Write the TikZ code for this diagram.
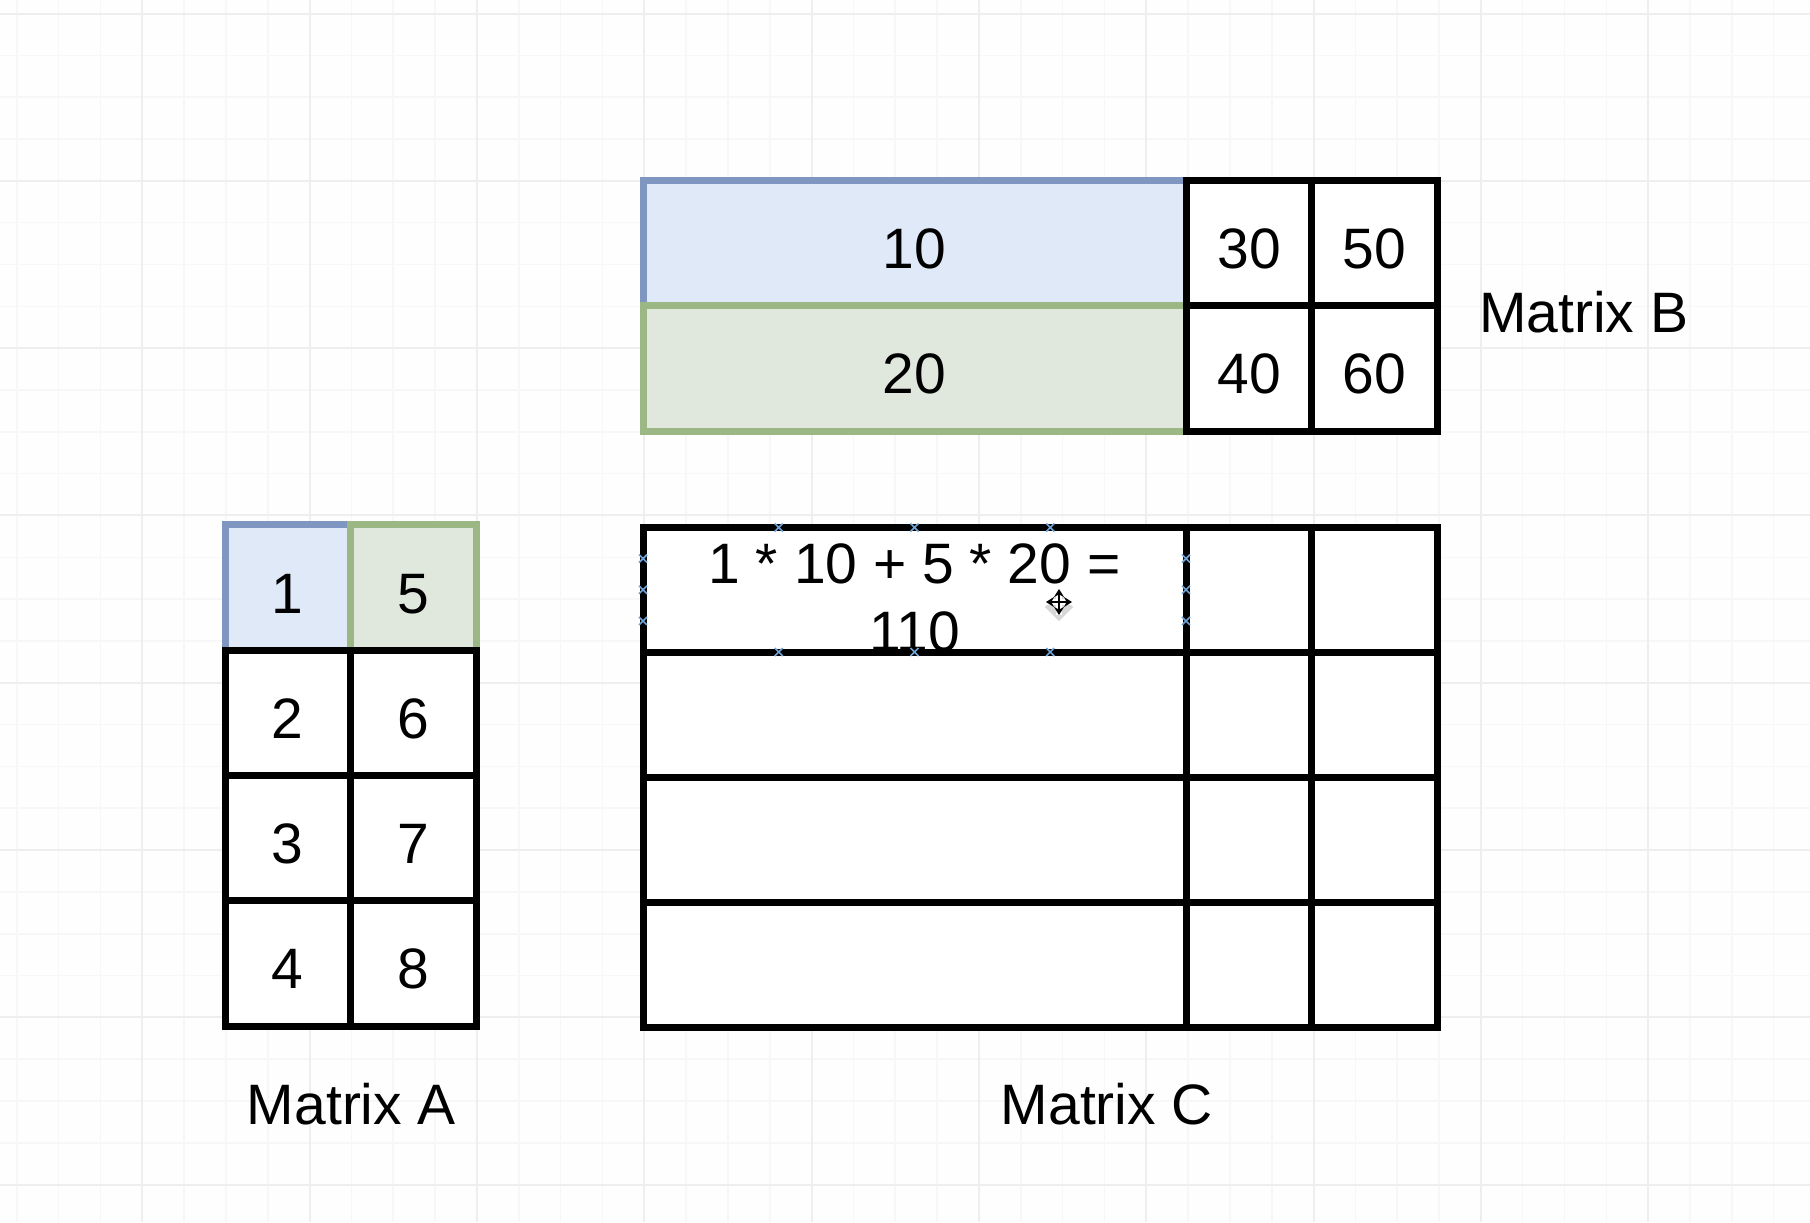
\documentclass[tikz,border=0pt]{standalone}
\usepackage{fontspec}
\setmainfont{Liberation Sans}
\usetikzlibrary{arrows.meta}
\definecolor{bluefill}{HTML}{E0E9F8}
\definecolor{blueline}{HTML}{7E96C0}
\definecolor{greenfill}{HTML}{E0E8DD}
\definecolor{greenline}{HTML}{9BB783}
\definecolor{gridbg}{HTML}{FEFEFE}
\definecolor{gridminor}{HTML}{F7F7F7}
\definecolor{gridmajor}{HTML}{EEEEEE}
\definecolor{pointblue}{HTML}{6FA3D8}
\definecolor{cursorshade}{HTML}{D8D8D8}
\begin{document}
\begin{tikzpicture}[x=0.5pt,y=-0.5pt,
  every node/.style={font=\fontsize{28.5}{33.75}\selectfont},
  cell/.style={draw=black,fill=white,line width=3.5pt,minimum width=62.75pt,minimum height=62.75pt,inner sep=0pt,text height=25.7pt,text depth=0pt},
  widecell/.style={cell,minimum width=271.5pt},
  bluecell/.style={draw=blueline,fill=bluefill},
  greencell/.style={draw=greenline,fill=greenfill},
  pointmark/.style={draw=pointblue,line width=0.8pt}]
  \useasboundingbox (0,0) rectangle (1810,1222);
  % Background grid
  \fill[gridbg] (0,0) rectangle (1810,1222);
  \foreach \k in {0,...,43} {\draw[gridminor,line width=0.8pt] ({16.8+41.83*\k},0) -- ++(0,1222);}
  \foreach \k in {0,...,29} {\draw[gridminor,line width=0.8pt] (0,{13.5+41.83*\k}) -- ++(1810,0);}
  \foreach \k in {3,7,...,43} {\draw[gridmajor,line width=1pt] ({16.8+41.83*\k},0) -- ++(0,1222);}
  \foreach \k in {0,4,...,28} {\draw[gridmajor,line width=1pt] (0,{13.5+41.83*\k}) -- ++(1810,0);}
  % Matrix A
  \node[cell,bluecell] (A11) at (287.75,587.5) {1};
  \node[cell,greencell] (A12) at (413.25,587.5) {5};
  \foreach \a/\b [count=\r from 2] in {2/6,3/7,4/8} {
    \node[cell] (A\r1) at (287.75,{587.5+125.25*(\r-1)}) {\a};
    \node[cell] (A\r2) at (413.25,{587.5+125.25*(\r-1)}) {\b};}
  % Matrix B
  \node[widecell,bluecell] (B11) at (914.5,242.75) {10};
  \node[widecell,greencell] (B21) at (914.5,368.25) {20};
  \foreach \a/\b [count=\r] in {30/50,40/60} {
    \node[cell] (B\r2) at (1249,{242.75+125.5*(\r-1)}) {\a};
    \node[cell] (B\r3) at (1374.5,{242.75+125.5*(\r-1)}) {\b};}
  % Matrix C
  \node[widecell,text height=,align=center] (C11) at (914.5,589.75) {\rule{0pt}{27.6pt}1 * 10 + 5 * 20 =\\110};
  \foreach \r in {2,3,4} {\node[widecell] (C\r1) at (914.5,{589.75+125.1*(\r-1)}) {};}
  \foreach \r in {1,...,4} {
    \node[cell] (C\r2) at (1249,{589.75+125.1*(\r-1)}) {};
    \node[cell] (C\r3) at (1374.5,{589.75+125.1*(\r-1)}) {};}
  % Connection points on the selected cell
  \foreach \x in {778.75,914.5,1050.25} {
    \draw[pointmark] (\x,527.5) ++(-4,-4) -- ++(8,8) ++(-8,0) -- ++(8,-8);
    \draw[pointmark] (\x,652) ++(-4,-4) -- ++(8,8) ++(-8,0) -- ++(8,-8);}
  \foreach \y in {558.6,589.75,620.9} {
    \draw[pointmark] (643,\y) ++(-4,-4) -- ++(8,8) ++(-8,0) -- ++(8,-8);
    \draw[pointmark] (1186,\y) ++(-4,-4) -- ++(8,8) ++(-8,0) -- ++(8,-8);}
  % Move cursor
  \fill[cursorshade] (1059,592) -- (1073,607) -- (1059,621) -- (1045,607) -- cycle;
  \draw[white,line width=3pt] (1046,602) -- (1072,602) (1059,589) -- (1059,615);
  \draw[black,line width=1.3pt,{Stealth[length=4pt,width=5pt]}-{Stealth[length=4pt,width=5pt]}] (1046,602) -- (1072,602);
  \draw[black,line width=1.3pt,{Stealth[length=4pt,width=5pt]}-{Stealth[length=4pt,width=5pt]}] (1059,589) -- (1059,615);
  % Labels
  \node (labA) at (351.5,1104.6) {Matrix A};
  \node (labB) at (1583.6,311.7) {Matrix B};
  \node (labC) at (1107,1104.6) {Matrix C};
\end{tikzpicture}
\end{document}
